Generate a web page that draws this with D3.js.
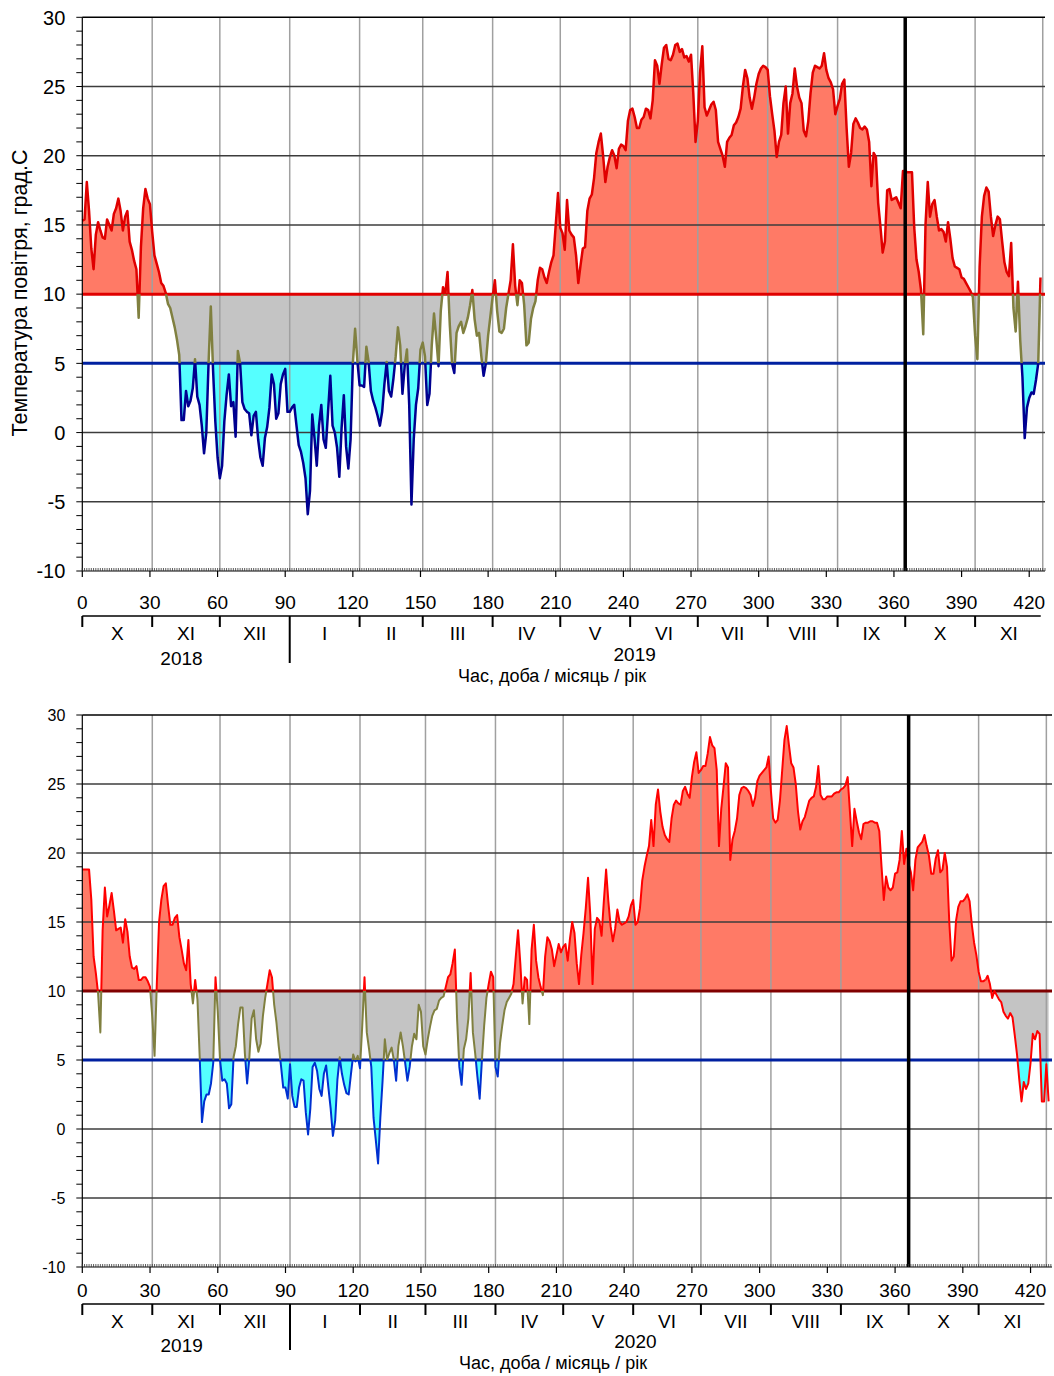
<!DOCTYPE html>
<html>
<head>
<meta charset="utf-8">
<script src="https://cdn.jsdelivr.net/npm/d3@7"></script>
<style>
  body { margin: 0; background: #fff; }
  svg { display: block; font-family: "Liberation Sans", Arial, sans-serif; }
</style>
</head>
<body>
<svg id="chart" width="1054" height="1376"></svg>
<script>
// Daily mean air temperature, day 0 = 1 October
const TEMP_2018_19 = [
  15.3, 15.4, 18.1, 16.0, 13.3, 11.8, 14.3, 15.2, 14.6, 14.1,
  14.0, 15.4, 15.0, 14.6, 15.8, 16.2, 16.9, 16.0, 14.6, 15.6,
  16.0, 13.8, 13.2, 12.4, 11.8, 8.3, 13.4, 16.2, 17.6, 16.9,
  16.5, 14.5, 12.8, 12.2, 11.6, 10.8, 10.6, 10.1, 9.3, 9.0,
  8.3, 7.6, 6.7, 5.6, 0.9, 0.9, 3.0, 1.9, 2.3, 3.2,
  5.3, 2.6, 2.0, 0.5, -1.5, 0.0, 5.0, 9.1, 4.5, 0.8,
  -1.8, -3.3, -2.4, 0.8, 2.7, 4.2, 1.9, 2.2, -0.3, 5.9,
  5.0, 2.2, 1.7, 1.5, 1.4, -0.2, 1.2, 1.5, -0.5, -1.8,
  -2.4, -0.4, 0.4, 1.8, 4.2, 3.5, 1.0, 1.4, 3.5, 4.2,
  4.6, 1.5, 1.5, 1.8, 2.0, 0.5, -0.9, -1.4, -2.2, -3.3,
  -5.9, -4.2, 1.3, -0.4, -2.4, 0.5, 2.0, -0.5, -1.1, 1.5,
  4.1, 0.5, 0.0, -1.1, -3.2, 0.3, 2.7, -1.0, -2.6, -0.5,
  5.0, 7.5, 5.2, 3.4, 3.4, 3.3, 6.2, 5.1, 3.0, 2.3,
  1.8, 1.2, 0.5, 1.5, 3.5, 5.1, 3.0, 2.6, 3.9, 5.5,
  7.6, 6.3, 2.8, 4.8, 6.0, 2.0, -5.2, -0.5, 2.0, 3.2,
  6.0, 6.5, 5.5, 2.0, 2.8, 6.3, 8.6, 6.8, 4.8, 8.8,
  10.5, 10.0, 11.6, 7.8, 5.0, 4.3, 7.2, 7.7, 8.0, 7.2,
  7.7, 8.3, 9.2, 10.3, 8.2, 7.0, 7.2, 5.5, 4.1, 5.0,
  7.0, 8.4, 9.8, 11.0, 8.8, 7.3, 7.2, 7.5, 9.0, 10.0,
  11.0, 13.6, 10.6, 9.2, 11.0, 10.8, 9.2, 6.3, 6.5, 8.2,
  9.0, 9.5, 11.0, 11.9, 11.8, 11.2, 10.8, 11.6, 12.3, 12.8,
  15.0, 17.3, 14.8, 14.4, 13.2, 16.8, 14.6, 14.3, 14.1, 12.8,
  10.8, 12.1, 13.3, 13.4, 16.0, 16.9, 17.2, 18.4, 20.2, 21.0,
  21.6, 20.0, 18.1, 19.2, 19.9, 20.4, 20.0, 19.1, 20.5, 20.8,
  20.7, 20.4, 22.5, 23.3, 23.4, 22.8, 22.0, 22.0, 22.6, 22.8,
  23.4, 23.3, 22.7, 24.0, 26.9, 26.5, 25.2, 26.6, 27.8, 28.0,
  27.0, 26.9, 27.3, 28.0, 28.1, 27.5, 27.7, 27.1, 27.2, 26.8,
  27.3, 24.5, 21.0, 22.5, 26.0, 27.9, 23.5, 22.9, 23.3, 23.7,
  23.9, 23.3, 21.0, 20.5, 20.0, 19.2, 21.0, 21.3, 21.5, 22.2,
  22.4, 22.8, 23.4, 25.0, 26.2, 25.6, 24.2, 23.4, 24.2, 25.2,
  25.9, 26.3, 26.5, 26.4, 26.2, 24.3, 23.0, 21.8, 19.9, 21.0,
  21.5, 23.8, 25.0, 21.6, 23.8, 24.5, 26.3, 25.0, 24.2, 23.8,
  21.8, 21.4, 22.5, 24.5, 26.0, 26.5, 26.4, 26.3, 26.5, 27.4,
  26.2, 25.6, 25.3, 24.8, 23.0, 23.6, 24.1, 25.2, 25.5, 22.0,
  19.2, 20.2, 22.3, 22.7, 22.4, 22.0, 21.9, 22.1, 21.9, 21.0,
  17.8, 20.2, 19.9, 16.6, 14.9, 13.0, 13.8, 17.5, 17.6, 16.8,
  16.9, 17.0, 16.6, 16.2, 18.9, 18.9, 18.8, 18.8, 18.8, 14.8,
  12.5, 11.6, 10.3, 7.1, 15.0, 18.1, 15.6, 16.5, 16.8, 15.6,
  14.6, 14.7, 14.5, 13.8, 15.2, 14.0, 12.6, 12.0, 11.9, 11.8,
  11.2, 11.1, 10.8, 10.5, 10.2, 9.8, 7.0, 5.3, 12.0, 15.6,
  17.1, 17.7, 17.4, 15.6, 14.2, 15.0, 15.6, 15.4, 13.8, 12.3,
  11.6, 11.3, 13.7, 9.0, 7.3, 10.9, 6.7, 4.0, -0.4, 1.8,
  2.5, 2.9, 2.8, 3.8, 5.0, 11.2
];

const TEMP_2019_20 = [
  18.8, 18.8, 18.8, 18.8, 16.6, 12.5, 11.3, 9.8, 7.0, 14.4,
  17.5, 15.4, 16.2, 17.1, 15.8, 14.4, 14.5, 14.6, 13.5, 15.2,
  14.3, 12.5, 11.7, 11.6, 11.8, 10.8, 10.8, 11.0, 11.0, 10.7,
  10.3, 8.1, 5.3, 10.5, 15.0, 16.6, 17.6, 17.8, 16.2, 14.8,
  14.8, 15.3, 15.5, 13.9, 13.0, 12.0, 11.5, 13.7, 10.5, 9.1,
  10.8, 9.4, 5.2, 0.5, 2.0, 2.5, 2.5, 3.3, 4.8, 11.0,
  8.5, 5.0, 3.5, 3.6, 3.3, 1.5, 1.8, 5.2, 6.0, 7.6,
  8.8, 8.8, 5.5, 3.3, 5.2, 8.0, 8.6, 6.5, 5.6, 6.2,
  8.2, 9.5, 10.5, 11.5, 11.0, 9.0, 7.7, 6.0, 4.6, 3.0,
  3.0, 2.2, 4.7, 2.4, 1.6, 1.6, 3.0, 3.6, 3.5, 1.2,
  -0.4, 1.5, 4.5, 4.8, 4.2, 2.9, 2.4, 4.0, 4.6, 3.0,
  1.5, -0.5, 0.6, 3.6, 5.2, 4.0, 3.2, 2.6, 2.5, 4.0,
  5.4, 4.9, 5.3, 4.4, 7.5, 11.0, 7.0, 5.8, 4.5, 0.8,
  -0.8, -2.5, 0.8, 3.5, 6.5, 5.0, 5.5, 5.9, 5.0, 3.5,
  6.0, 7.0, 6.0, 4.8, 3.5, 4.5, 6.0, 6.9, 6.5, 9.0,
  8.5, 6.0, 5.4, 6.5, 7.4, 8.2, 8.6, 8.7, 9.3, 9.5,
  9.6, 10.3, 11.0, 11.2, 12.0, 13.0, 8.0, 4.5, 3.2, 5.8,
  6.5, 8.0, 11.3, 7.0, 5.5, 3.8, 2.2, 5.0, 7.5, 9.5,
  10.5, 11.4, 11.0, 4.5, 3.8, 6.2, 7.5, 8.6, 9.2, 9.5,
  9.8, 10.5, 12.5, 14.4, 12.0, 9.1, 11.0, 10.8, 7.6, 13.0,
  14.8, 12.2, 11.0, 10.3, 9.7, 12.5, 13.9, 13.6, 13.0, 11.8,
  12.6, 13.4, 12.8, 13.2, 13.4, 12.2, 13.8, 15.0, 14.2, 12.0,
  10.5, 12.6, 14.2, 16.0, 18.2, 15.5, 10.5, 14.5, 15.3, 15.1,
  14.0, 16.5, 18.8, 16.5, 14.7, 13.6, 14.5, 15.9, 15.0, 14.8,
  14.9, 15.0, 15.4, 16.2, 16.6, 14.8, 15.0, 16.0, 18.0, 19.0,
  19.8, 20.5, 22.4, 20.5, 23.5, 24.6, 23.0, 21.9, 21.3, 21.0,
  20.8, 22.5, 23.5, 23.8, 23.6, 23.5, 24.5, 24.8, 24.3, 24.0,
  25.5, 26.6, 27.3, 25.8, 26.0, 26.3, 26.3, 27.2, 28.4, 27.8,
  27.6, 26.0, 20.5, 23.2, 24.8, 26.5, 26.2, 19.5, 21.0, 21.6,
  22.5, 24.2, 24.7, 24.8, 24.7, 24.5, 24.2, 23.4, 24.0, 25.2,
  25.6, 25.8, 26.0, 26.2, 27.0, 24.5, 22.5, 22.2, 22.4, 23.8,
  26.0, 28.2, 29.2, 27.8, 26.5, 26.2, 25.0, 23.0, 21.7, 22.3,
  22.6, 23.2, 23.8, 24.0, 24.1, 24.8, 26.3, 24.2, 23.9, 23.9,
  24.1, 24.1, 24.1, 24.3, 24.4, 24.4, 24.6, 24.7, 24.9, 25.5,
  23.0, 20.5, 23.2, 22.3, 21.5, 21.0, 22.1, 22.2, 22.2, 22.3,
  22.3, 22.2, 22.2, 21.6, 19.0, 16.6, 18.3, 17.5, 17.3, 17.5,
  18.5, 18.6, 19.5, 21.6, 19.2, 20.3, 19.2, 18.6, 17.3, 19.5,
  20.4, 20.6, 20.8, 21.3, 20.5, 19.8, 18.5, 18.5, 19.6, 20.2,
  18.6, 18.8, 20.0, 19.0, 15.0, 12.2, 12.5, 15.1, 16.1, 16.5,
  16.5, 16.7, 17.0, 16.5, 14.8, 13.5, 12.6, 11.4, 10.7, 10.7,
  10.8, 11.1, 10.5, 9.5, 10.0, 9.7, 9.4, 9.2, 8.5, 8.2,
  8.0, 8.4, 8.1, 6.8, 5.4, 3.6, 2.0, 3.4, 2.9, 3.3,
  4.8, 6.9, 6.5, 7.1, 6.9, 2.0, 2.0, 4.7, 2.0
];

const MONTH_NAMES = ["X", "XI", "XII", "I", "II", "III", "IV", "V", "VI", "VII", "VIII", "IX", "X", "XI"];
const MONTH_DAYS_1 = [31, 30, 31, 31, 28, 31, 30, 31, 30, 31, 31, 30, 31, 30];
const MONTH_DAYS_2 = [31, 30, 31, 31, 29, 31, 30, 31, 30, 31, 31, 30, 31, 30];
const YEARS_1 = ["2018", "2019"];
const YEARS_2 = ["2019", "2020"];
const DAY_TICKS = [0, 30, 60, 90, 120, 150, 180, 210, 240, 270, 300, 330, 360, 390, 420];
const TEMP_TICKS = [-10, -5, 0, 5, 10, 15, 20, 25, 30];
const HIGH = 10;   // upper threshold, degC
const LOW = 5;     // lower threshold, degC
const MARK_DAY_1 = 365;
const MARK_DAY_2 = 366;

const svg = d3.select("#chart");

// ---- panel layout ----
const PANEL_1 = {
  id: "p1", left: 82.3, right: 1045, top: 17.3, bottom: 571, xMax: 427,
  yFont: 20, font: 19, dayLabelY: 602, monthLineY: 616, monthLabelY: 633,
  yearY: 658, yearTickY: 663, titleY: 676, yearDays: [44, 245], titleX: 552,
  highColor: "#e00000", warmLine: "#e00000", coldLine: "#000090", lineWidth: 2.5,
  redTailFrom: null, yTitle: true
};
const PANEL_2 = {
  id: "p2", left: 82.3, right: 1052, top: 715, bottom: 1267, xMax: 429.5,
  yFont: 16, font: 19, dayLabelY: 1290, monthLineY: 1304, monthLabelY: 1321,
  yearY: 1345, yearTickY: 1350, titleY: 1363, yearDays: [44, 245], titleX: 553,
  highColor: "#800000", warmLine: "#ff0000", coldLine: "#0030d0", lineWidth: 2,
  redTailFrom: 400, yTitle: false
};

function drawPanel(cfg, temps, monthDays, years, markDay) {
  const g = svg.append("g");
  const x = d3.scaleLinear().domain([0, cfg.xMax]).range([cfg.left, cfg.right]);
  const y = d3.scaleLinear().domain([-10, 30]).range([cfg.bottom, cfg.top]);
  const pts = temps.map((v, i) => [i, v]);

  const bounds = [0];
  monthDays.forEach(d => bounds.push(bounds[bounds.length - 1] + d));

  // ---------- CLIPS ----------
  const defs = g.append("defs");
  function clip(name, y0, y1, x0, x1) {
    x0 = x0 == null ? cfg.left - 2 : x0;
    x1 = x1 == null ? cfg.right + 2 : x1;
    defs.append("clipPath").attr("id", cfg.id + name)
      .append("rect")
      .attr("x", x0).attr("y", y0)
      .attr("width", x1 - x0).attr("height", y1 - y0);
    return `url(#${cfg.id + name})`;
  }
  const tailX = cfg.redTailFrom != null ? x(cfg.redTailFrom) : cfg.right + 2;
  const clipHigh = clip("hi", cfg.top - 10, y(HIGH));
  const clipMid = clip("mid", y(HIGH), y(LOW));
  const clipLow = clip("lo", y(LOW), cfg.bottom + 10);
  const clipLineHigh = clip("lhi", cfg.top - 10, y(HIGH), null, tailX);
  const clipLineMid = clip("lmid", y(HIGH), y(LOW), null, tailX);
  const clipLineLow = clip("llo", y(LOW), cfg.bottom + 10, null, tailX);
  const clipTail = clip("tail", cfg.top - 10, cfg.bottom + 10, tailX, cfg.right + 2);

  // ---------- FILLS ----------
  const areaTo = base => d3.area().x(d => x(d[0])).y0(y(base)).y1(d => y(d[1]));
  g.append("path").datum(pts).attr("d", areaTo(HIGH)).attr("fill", "#ff7a66").attr("clip-path", clipHigh);
  g.append("path").datum(pts).attr("d", areaTo(HIGH)).attr("fill", "#c4c4c4").attr("clip-path", clipMid);
  g.append("path").datum(pts).attr("d", areaTo(LOW)).attr("fill", "#55ffff").attr("clip-path", clipLow);

  // ---------- GRID ----------
  g.selectAll("line.vgrid")
    .data(bounds.slice(1))
    .enter().append("line")
    .attr("x1", d => x(d)).attr("x2", d => x(d))
    .attr("y1", cfg.top).attr("y2", cfg.bottom)
    .attr("stroke", "#a0a0a0").attr("stroke-width", 1.5);

  g.selectAll("line.hgrid")
    .data(TEMP_TICKS.filter(t => t > -10 && t !== HIGH && t !== LOW))
    .enter().append("line")
    .attr("x1", cfg.left).attr("x2", cfg.right)
    .attr("y1", d => y(d)).attr("y2", d => y(d))
    .attr("stroke", d => (d === 30 ? "#000" : "#3c3c3c"))
    .attr("stroke-width", 1.5);

  // ---------- THRESHOLDS ----------
  g.append("line")
    .attr("x1", cfg.left).attr("x2", cfg.right)
    .attr("y1", y(HIGH)).attr("y2", y(HIGH))
    .attr("stroke", cfg.highColor).attr("stroke-width", 3);
  g.append("line")
    .attr("x1", cfg.left).attr("x2", cfg.right)
    .attr("y1", y(LOW)).attr("y2", y(LOW))
    .attr("stroke", "#0020a0").attr("stroke-width", 3);

  // ---------- DATA LINE ----------
  const line = d3.line().x(d => x(d[0])).y(d => y(d[1]));
  [[clipLineHigh, cfg.warmLine], [clipLineMid, "#808040"], [clipLineLow, cfg.coldLine], [clipTail, cfg.warmLine]]
    .forEach(([cp, color]) => {
      g.append("path").datum(pts)
        .attr("d", line)
        .attr("fill", "none")
        .attr("stroke", color)
        .attr("stroke-width", cfg.lineWidth)
        .attr("stroke-linejoin", "round")
        .attr("clip-path", cp);
    });

  // marker of the new season
  g.append("line")
    .attr("x1", x(markDay)).attr("x2", x(markDay))
    .attr("y1", cfg.top).attr("y2", cfg.bottom)
    .attr("stroke", "#000").attr("stroke-width", 3.5);

  // ---------- Y AXIS ----------
  g.append("line")
    .attr("x1", cfg.left).attr("x2", cfg.left)
    .attr("y1", cfg.top).attr("y2", cfg.bottom)
    .attr("stroke", "#000").attr("stroke-width", 1.2);

  g.selectAll("line.ymin")
    .data(d3.range(-10, 31))
    .enter().append("line")
    .attr("x1", cfg.left - 6).attr("x2", cfg.left)
    .attr("y1", d => y(d)).attr("y2", d => y(d))
    .attr("stroke", "#000").attr("stroke-width", 1);

  g.selectAll("text.ylab")
    .data(TEMP_TICKS)
    .enter().append("text")
    .attr("x", cfg.left - 17)
    .attr("y", d => y(d))
    .attr("dy", "0.36em")
    .attr("text-anchor", "end")
    .attr("font-size", cfg.yFont)
    .attr("fill", "#000")
    .text(d => d);

  if (cfg.yTitle) {
    g.append("text")
      .attr("transform", `translate(27,293) rotate(-90)`)
      .attr("text-anchor", "middle")
      .attr("font-size", 21.5)
      .attr("fill", "#000")
      .text("Температура повітря,  град.С");
  }

  // ---------- X AXIS (days) ----------
  g.append("line")
    .attr("x1", cfg.left).attr("x2", cfg.right)
    .attr("y1", cfg.bottom).attr("y2", cfg.bottom)
    .attr("stroke", "#000").attr("stroke-width", 1.2);

  g.selectAll("line.dmin")
    .data(d3.range(0, Math.floor(cfg.xMax) + 1))
    .enter().append("line")
    .attr("x1", d => x(d)).attr("x2", d => x(d))
    .attr("y1", cfg.bottom - 3).attr("y2", cfg.bottom)
    .attr("stroke", "#333").attr("stroke-width", 0.8);

  g.selectAll("line.dmaj")
    .data(DAY_TICKS)
    .enter().append("line")
    .attr("x1", d => x(d)).attr("x2", d => x(d))
    .attr("y1", cfg.bottom).attr("y2", cfg.bottom + 6)
    .attr("stroke", "#000").attr("stroke-width", 1.2);

  g.selectAll("text.dlab")
    .data(DAY_TICKS)
    .enter().append("text")
    .attr("x", d => x(d))
    .attr("y", cfg.dayLabelY)
    .attr("dy", "0.36em")
    .attr("text-anchor", "middle")
    .attr("font-size", cfg.font)
    .attr("fill", "#000")
    .text(d => d);

  // ---------- MONTH AXIS ----------
  const lastBound = bounds[bounds.length - 1];
  g.append("line")
    .attr("x1", x(0)).attr("x2", x(lastBound) - 2)
    .attr("y1", cfg.monthLineY).attr("y2", cfg.monthLineY)
    .attr("stroke", "#000").attr("stroke-width", 1.5);

  g.selectAll("line.mtick")
    .data(bounds.slice(0, -1))
    .enter().append("line")
    .attr("x1", d => x(d)).attr("x2", d => x(d))
    .attr("y1", cfg.monthLineY)
    .attr("y2", (d, i) => (i === 3 ? cfg.yearTickY : cfg.monthLineY + 11))
    .attr("stroke", "#000").attr("stroke-width", 2);

  g.selectAll("text.mlab")
    .data(MONTH_NAMES)
    .enter().append("text")
    .attr("x", (d, i) => x((bounds[i] + bounds[i + 1]) / 2))
    .attr("y", cfg.monthLabelY)
    .attr("dy", "0.36em")
    .attr("text-anchor", "middle")
    .attr("font-size", cfg.font)
    .attr("fill", "#000")
    .text(d => d);

  g.selectAll("text.year")
    .data(years)
    .enter().append("text")
    .attr("x", (d, i) => x(cfg.yearDays[i]))
    .attr("y", (d, i) => cfg.yearY - i * 4)
    .attr("dy", "0.36em")
    .attr("text-anchor", "middle")
    .attr("font-size", cfg.font)
    .attr("fill", "#000")
    .text(d => d);

  g.append("text")
    .attr("x", cfg.titleX)
    .attr("y", cfg.titleY)
    .attr("dy", "0.36em")
    .attr("text-anchor", "middle")
    .attr("font-size", 18)
    .attr("fill", "#000")
    .text("Час, доба / місяць / рік");
}

drawPanel(PANEL_1, TEMP_2018_19, MONTH_DAYS_1, YEARS_1, MARK_DAY_1);
drawPanel(PANEL_2, TEMP_2019_20, MONTH_DAYS_2, YEARS_2, MARK_DAY_2);
</script>
</body>
</html>
